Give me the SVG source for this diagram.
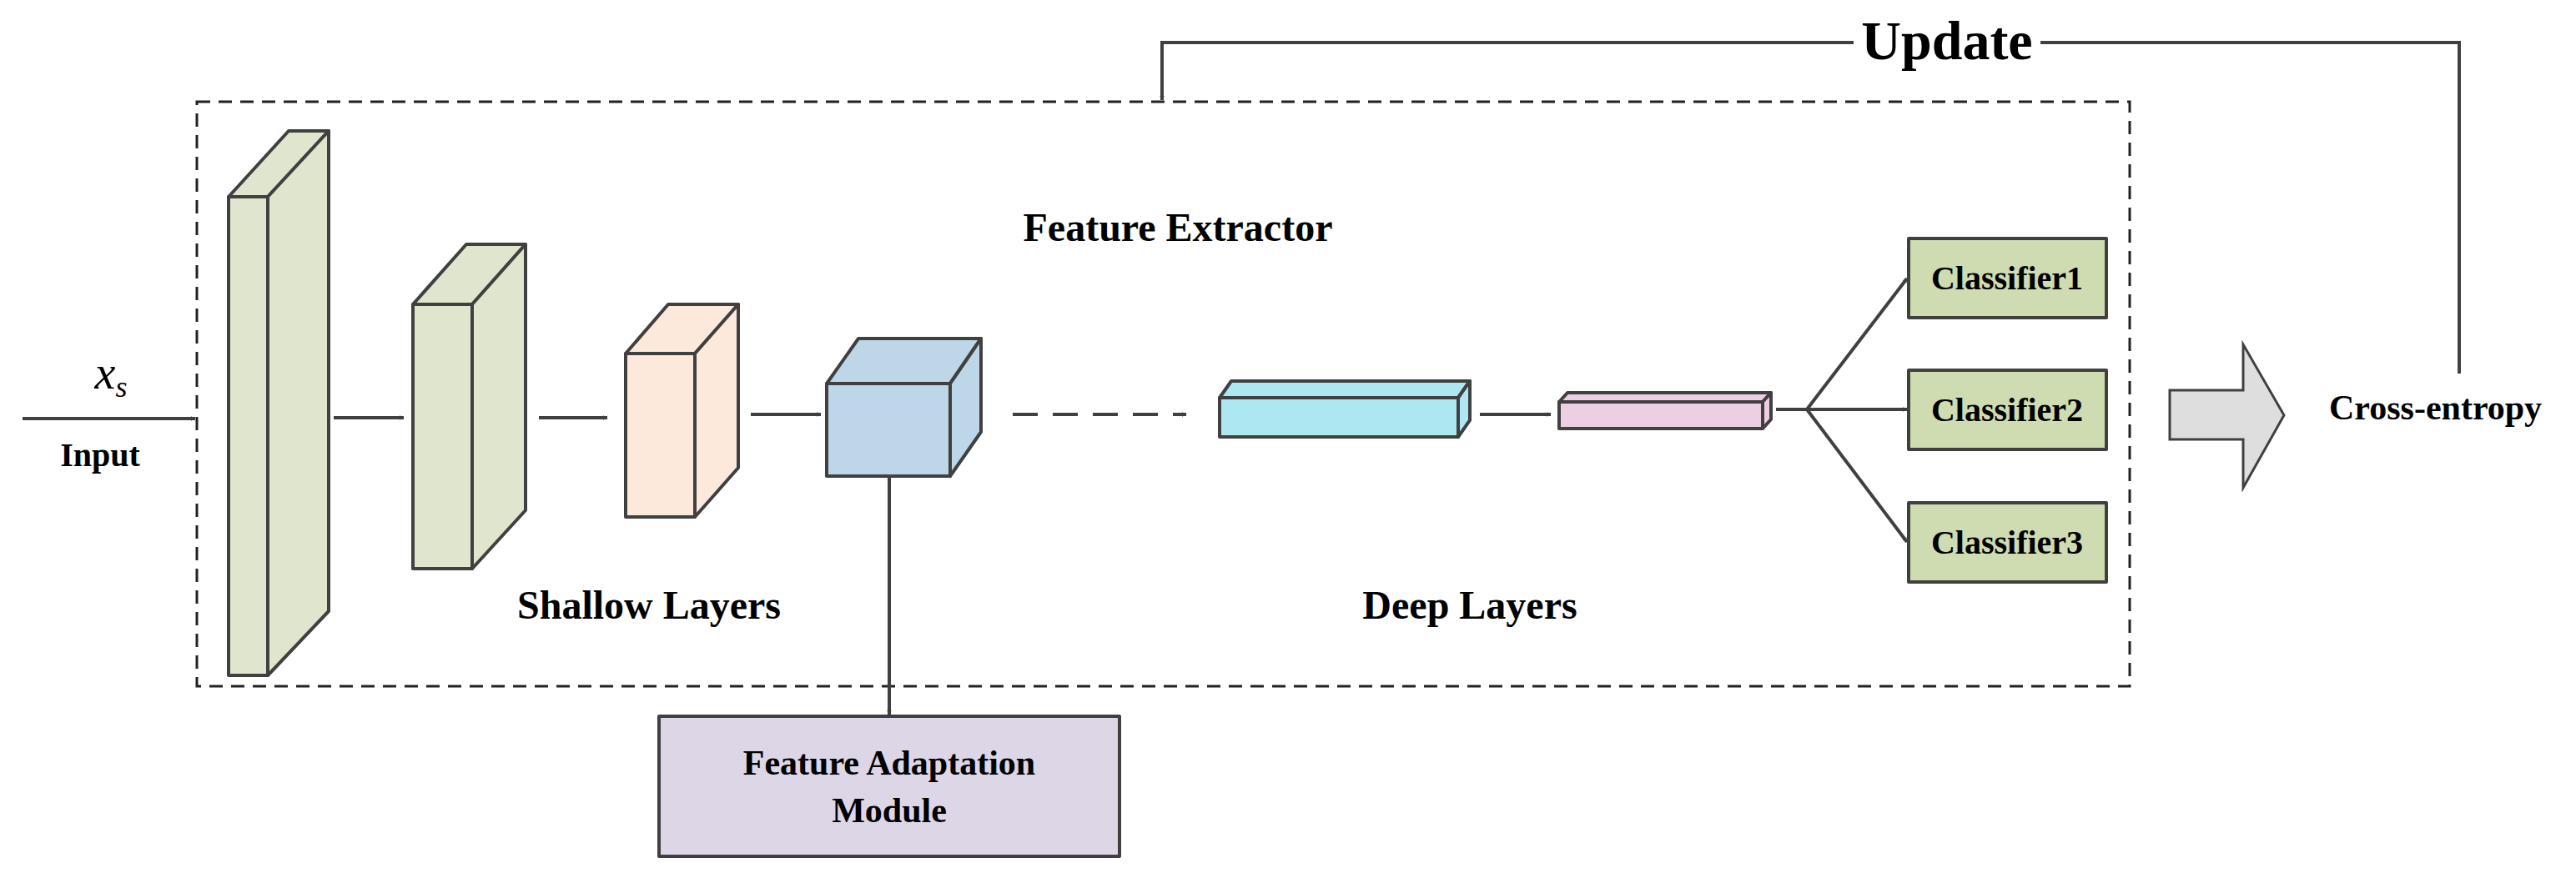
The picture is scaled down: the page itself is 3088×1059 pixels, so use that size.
<svg xmlns="http://www.w3.org/2000/svg" width="3088" height="1059" viewBox="0 0 3088 1059">
<defs>
<marker id="ah" viewBox="0 0 10 10" refX="9" refY="5" markerWidth="6" markerHeight="6" markerUnits="userSpaceOnUse" orient="auto"><path d="M0,0 L10,5 L0,10 L3,5 z" fill="#404040"/></marker>
<marker id="ahb" viewBox="0 0 10 10" refX="9" refY="5" markerWidth="7" markerHeight="7" orient="auto"><path d="M0,0 L10,5 L0,10 L3,5 z" fill="#404040"/></marker>
<style>
.s{stroke:#404040;stroke-width:4;stroke-linejoin:round}
.l{stroke:#404040;stroke-width:4;fill:none}
.t{font-family:"Liberation Serif",serif;font-weight:bold;fill:#000}
</style>
</defs>
<rect width="3088" height="1059" fill="#fff"/>
<g id="extractor">
<rect x="236" y="122" width="2317" height="701" fill="none" stroke="#222" stroke-width="3" stroke-dasharray="16,10"/>
<text class="t" x="1412" y="289" font-size="48" text-anchor="middle">Feature Extractor</text>
<text class="t" x="778" y="742" font-size="48" text-anchor="middle">Shallow Layers</text>
<text class="t" x="1762" y="742" font-size="48" text-anchor="middle">Deep Layers</text>
</g>
<g id="layer1" class="s" fill="#dfe6cd">
<rect x="274" y="236" width="47" height="574"/>
<path d="M274,236 L346,157 L394,157 L321,236 z"/>
<path d="M321,236 L394,157 L394,733 L321,810 z"/>
</g>
<g id="layer2" class="s" fill="#dfe6cd">
<rect x="495" y="365" width="71" height="317"/>
<path d="M495,365 L559,293 L630,293 L566,365 z"/>
<path d="M566,365 L630,293 L630,612 L566,682 z"/>
</g>
<g id="layer3" class="s" fill="#fde9dc">
<rect x="750" y="424" width="83" height="196"/>
<path d="M750,424 L801,365 L885,365 L833,424 z"/>
<path d="M833,424 L885,365 L885,561 L833,620 z"/>
</g>
<g id="layer4" class="s" fill="#bdd7e8">
<rect x="991" y="460" width="148" height="111"/>
<path d="M991,460 L1029,406 L1176,406 L1139,460 z"/>
<path d="M1139,460 L1176,406 L1176,518 L1139,571 z"/>
</g>
<g id="layer5" class="s" fill="#ade8f2">
<rect x="1462" y="477" width="286" height="47"/>
<path d="M1462,477 L1476,457 L1762,457 L1748,477 z"/>
<path d="M1748,477 L1762,457 L1762,504 L1748,524 z"/>
</g>
<g id="layer6" class="s" fill="#eccfe2">
<rect x="1869" y="482" width="244" height="32"/>
<path d="M1869,482 L1879,471 L2123,471 L2113,482 z"/>
<path d="M2113,482 L2123,471 L2123,503 L2113,514 z"/>
</g>
<g id="classifier1"><rect class="s" x="2288" y="286" width="237" height="95" fill="#cfdbb0"/><text class="t" x="2406" y="347" font-size="40" text-anchor="middle">Classifier1</text></g>
<g id="classifier2"><rect class="s" x="2288" y="444" width="237" height="95" fill="#cfdbb0"/><text class="t" x="2406" y="505" font-size="40" text-anchor="middle">Classifier2</text></g>
<g id="classifier3"><rect class="s" x="2288" y="603" width="237" height="95" fill="#cfdbb0"/><text class="t" x="2406" y="664" font-size="40" text-anchor="middle">Classifier3</text></g>
<g id="fam"><rect class="s" x="790" y="859" width="552" height="168" fill="#dcd6e6"/>
<text class="t" x="1066" y="929" font-size="42" text-anchor="middle">Feature Adaptation</text>
<text class="t" x="1066" y="986" font-size="42" text-anchor="middle">Module</text></g>
<g id="bigarrow"><path d="M2601,468 L2689,468 L2689,413 L2738,498 L2689,585 L2689,527 L2601,527 z" fill="#dedede" stroke="#404040" stroke-width="3"/></g>
<g id="crossentropy"><text class="t" x="2792" y="503" font-size="42">Cross-entropy</text></g>
<g id="input">
<text x="133" y="466" font-family="Liberation Serif,serif" font-style="italic" font-size="56" text-anchor="middle">x<tspan font-size="36" dy="10">s</tspan></text>
<text class="t" x="120" y="559" font-size="40" text-anchor="middle">Input</text>
</g>
<g id="update"><text class="t" x="2334" y="71" font-size="66" text-anchor="middle">Update</text></g>
<g id="connectors">
<line class="l" x1="27" y1="502" x2="234" y2="502" marker-end="url(#ah)"/>
<line class="l" x1="400" y1="501" x2="484" y2="501" marker-end="url(#ah)"/>
<line class="l" x1="646" y1="501" x2="728" y2="501" marker-end="url(#ah)"/>
<line class="l" x1="900" y1="497" x2="984" y2="497" marker-end="url(#ah)"/>
<line class="l" x1="1214" y1="497" x2="1422" y2="497" stroke-dasharray="30,18" marker-end="url(#ah)"/>
<line class="l" x1="1774" y1="497" x2="1859" y2="497" marker-end="url(#ah)"/>
<line class="l" x1="2129" y1="491" x2="2166" y2="491"/>
<line class="l" x1="2166" y1="491" x2="2286" y2="334" marker-end="url(#ah)"/>
<line class="l" x1="2166" y1="491" x2="2286" y2="491" marker-end="url(#ah)"/>
<line class="l" x1="2166" y1="491" x2="2286" y2="650" marker-end="url(#ah)"/>
<line class="l" x1="1066" y1="571" x2="1066" y2="857" marker-end="url(#ah)"/>
<path class="l" d="M2948,448 L2948,51 L2446,51 M2222,51 L1393,51 L1393,120" marker-end="url(#ah)"/>
</g>
</svg>
